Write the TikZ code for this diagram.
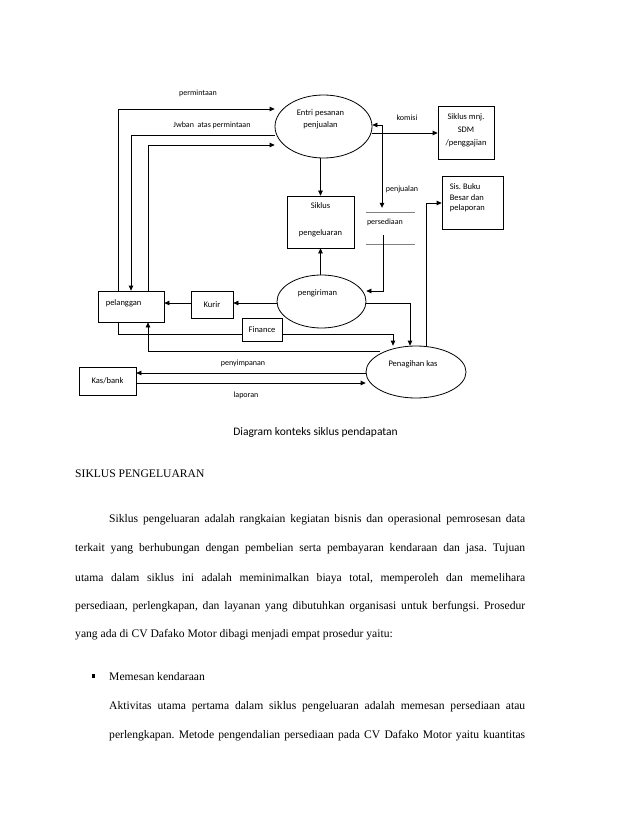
\documentclass[tikz,border=0pt]{standalone}
\usepackage{fontspec}
\setmainfont{Liberation Serif}
\newfontfamily\calib{Carlito}
\usetikzlibrary{shapes.geometric,arrows.meta}
\frenchspacing
\begin{document}
\begin{tikzpicture}[x=1pt,y=-1pt,
  ln/.style={line width=0.8pt},
  arr/.style={ln,-{Triangle[length=5pt,width=4.6pt]}},
  darr/.style={ln,{Triangle[length=5pt,width=4.6pt]}-{Triangle[length=5pt,width=4.6pt]}},
  ell/.style={draw,ellipse,ln,inner sep=0pt},
  box/.style={draw,rectangle,ln,inner sep=0pt,fill=white},
  txt/.style={font=\calib\fontsize{8.5}{12}\selectfont,inner sep=0pt},
  lbl/.style={font=\calib\fontsize{8}{10}\selectfont,inner sep=0pt},
  body/.style={font=\frenchspacing\fontsize{11.6}{14}\selectfont,inner sep=0pt,anchor=base west}]
\useasboundingbox (0,0) rectangle (638,826);
\fill[white] (0,0) rectangle (638,826);

% ---------- nodes ----------
\node[ell,minimum width=97pt,minimum height=63pt,
  label={[txt,align=center,yshift=7.5pt,xshift=-3pt]center:Entri pesanan\\penjualan}] (E) at (323.5,126.5) {};
\node[box,minimum width=56pt,minimum height=53pt,
  label={[txt,align=center,yshift=2.5pt,font=\calib\fontsize{8.5}{13}\selectfont]center:Siklus mnj.\\SDM\\/penggajian}] (M) at (466,132.5) {};
\node[box,minimum width=61pt,minimum height=53pt,
  label={[txt,align=left,anchor=north west,xshift=8pt,yshift=-8pt,font=\calib\fontsize{8.5}{10.5}\selectfont]north west:Sis. Buku\\Besar dan\\pelaporan}] (U) at (472.5,202.5) {};
\node[box,minimum width=67pt,minimum height=52pt,
  label={[txt,align=center,yshift=2.5pt,font=\calib\fontsize{8.5}{13.5}\selectfont]center:Siklus\\\mbox{}\\pengeluaran}] (S) at (320.5,222) {};
\node[minimum width=49pt,minimum height=31pt,inner sep=0pt,
  label={[lbl,anchor=west,yshift=6.5pt,xshift=1pt]west:persediaan}] (D) at (390.5,228.5) {};
\draw[ln,gray] (D.north west) -- (D.north east);
\draw[ln,gray] (D.south west) -- (D.south east);
\node[ell,minimum width=89pt,minimum height=53pt,
  label={[txt,yshift=8.5pt,xshift=-4pt]center:pengiriman}] (K) at (321.5,301.5) {};
\node[ell,minimum width=100pt,minimum height=52pt,
  label={[txt,yshift=8pt,xshift=-3pt]center:Penagihan kas}] (G) at (416,372) {};
\node[box,minimum width=66pt,minimum height=31pt,
  label={[txt,anchor=west,xshift=8pt,yshift=3.5pt]west:pelanggan}] (P) at (131,306.5) {};
\node[box,minimum width=42pt,minimum height=27pt,txt] (R) at (212,304.5) {Kurir};
\node[box,minimum width=57pt,minimum height=28pt,txt] (B) at (107.5,381) {Kas/bank};

% ---------- bend points ----------
\coordinate (c1) at (118,109);
\coordinate (c2) at (131,135);
\coordinate (c3) at (148,145);
\coordinate (c4) at (382,125);
\coordinate (c5) at (0,133);
\coordinate (c6a) at (383,235);
\coordinate (c6) at (383,291);
\coordinate (c7) at (410,303);
\coordinate (c8) at (0,303);
\coordinate (c9) at (118,334);
\coordinate (c10) at (393,334);
\coordinate (c11) at (148,351);
\coordinate (c12) at (0,373);
\coordinate (c13) at (0,383);
\coordinate (c14) at (426,203);

% ---------- connectors ----------
\draw[arr] (c1 |- P.north) -- (c1) -- (c1 -| E.west);
\draw[arr] (c2 -| E.west) -- (c2) -- (c2 |- P.north);
\draw[arr] (c3 |- P.north) -- (c3) -- (c3 -| E.west);
\draw[arr] (S.north |- E.south) -- (S.north);
\draw[arr] (S.south |- K.north) -- (S.south);
\draw[darr,shorten >=5pt] (c4 -| E.east) -- (c4) -- (c4 |- D.north);
\draw[arr] (c5 -| E.east) -- (c5 -| M.west);
\draw[arr] (c6a) -- (c6) -- (c6 -| K.east);
\draw[arr] (c7 -| K.east) -- (c7) -- (c7 |- G.north);
\draw[arr] (K.west |- c8) -- (R.east |- c8);
\draw[arr] (R.west |- c8) -- (P.east |- c8);
\draw[arr] (c9 |- P.south) -- (c9) -- (c10) -- (c10 |- G.north);
\draw[arr] (c11 -| G.north west) -- (c11) -- (c11 |- P.south);
\draw[arr] (c12 -| G.west) -- (c12 -| B.east);
\draw[arr] (c13 -| B.east) -- (c13 -| G.west);
\draw[arr] (c14 |- G.north) -- (c14) -- (c14 -| U.west);

\node[box,minimum width=40pt,minimum height=23pt,txt] (F) at (262,329.5) {Finance};

% ---------- connector labels ----------
\node[lbl] (l1) at (198,93) {permintaan};
\node[lbl] (l2) at (212,125) {Jwban\ \ atas permintaan};
\node[lbl] (l3) at (407,118) {komisi};
\node[lbl] (l4) at (402,189) {penjualan};
\node[lbl] (l5) at (243,363) {penyimpanan};
\node[lbl] (l6) at (246,395) {laporan};

% ---------- caption ----------
\node[font=\calib\fontsize{11.5}{14}\selectfont,inner sep=0pt] (cap) at (315.5,432) {Diagram konteks siklus pendapatan};

% ---------- body text ----------
\node[body] (h) at (75,477) {SIKLUS PENGELUARAN};
\node[body] (p1) at (109,522) {\makebox[416pt][s]{Siklus pengeluaran adalah rangkaian kegiatan bisnis dan operasional pemrosesan data}};
\node[body] (p2) at (75,551) {\makebox[450pt][s]{terkait yang berhubungan dengan pembelian serta pembayaran kendaraan dan jasa. Tujuan}};
\node[body] (p3) at (75,581) {\makebox[450pt][s]{utama dalam siklus ini adalah meminimalkan biaya total, memperoleh dan memelihara}};
\node[body] (p4) at (75,609) {\makebox[450pt][s]{persediaan, perlengkapan, dan layanan yang dibutuhkan organisasi untuk berfungsi. Prosedur}};
\node[body] (p5) at (75,637) {yang ada di CV Dafako Motor dibagi menjadi empat prosedur yaitu:};
\node[fill=black,minimum size=3.8pt,inner sep=0pt] (bul) at (93.5,676) {};
\node[body] (b1) at (109,680) {Memesan kendaraan};
\node[body] (b2) at (109,709) {\makebox[416pt][s]{Aktivitas utama pertama dalam siklus pengeluaran adalah memesan persediaan atau}};
\node[body] (b3) at (109,738) {\makebox[416pt][s]{perlengkapan. Metode pengendalian persediaan pada CV Dafako Motor yaitu kuantitas}};
\end{tikzpicture}
\end{document}
